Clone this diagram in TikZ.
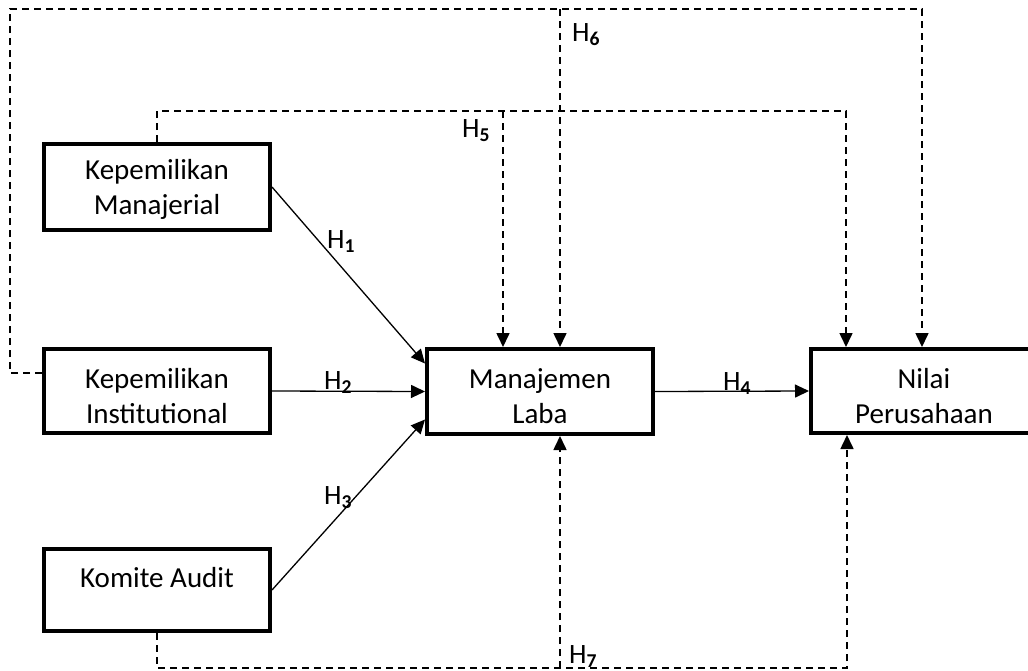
\documentclass[tikz,border=0pt]{standalone}
\usepackage{fontspec}
\setmainfont{Carlito}
\usetikzlibrary{arrows.meta}

\tikzset{
  varbox/.style={draw,line width=4pt,minimum width=226pt,minimum height=84pt,inner sep=0pt,
    align=center,font=\fontsize{29}{35}\selectfont,text height=65pt},
  hlabel/.style={anchor=base west,inner sep=0pt,font=\fontsize{28}{32}\selectfont},
  effect/.style={line width=1.3pt,-{Triangle[length=14pt,width=13pt]}},
  moder/.style={line width=1.6pt,dash pattern=on 7pt off 5pt,-{Triangle[length=14pt,width=13pt]}}
}

\begin{document}
\begin{tikzpicture}[x=1pt,y=-1pt]
\useasboundingbox (0,0) rectangle (1028,670);
\node[varbox,minimum height=86pt,text height=60pt] (manaj) at (157,187) {Kepemilikan\\Manajerial};
\node[varbox] (inst) at (157,391) {Kepemilikan\\Institutional};
\node[varbox,minimum height=82pt] (komite) at (157,590) {Komite Audit\\\mbox{}};
\node[varbox,minimum height=85pt] (laba) at (540,391.5) {Manajemen\\Laba};
\node[varbox] (nilai) at (924,391) {Nilai\\Perusahaan};

\coordinate (top) at (10,9);
\coordinate (mid) at (0,111);
\coordinate (bot) at (0,668);
\coordinate (a1) at ([xshift=-37pt]laba.north);
\coordinate (a2) at ([xshift=20pt]laba.north);
\coordinate (b1) at ([xshift=-78pt]nilai.north);
\coordinate (b2) at ([xshift=-2pt]nilai.north);
\coordinate (c1) at ([xshift=20pt]laba.south);
\coordinate (c2) at ([xshift=-77pt]nilai.south);

\draw[effect] (manaj.east) -- ([yshift=28pt]laba.west);
\draw[effect] (inst.east) -- (laba.west);
\draw[effect] (komite.east) -- ([yshift=-28pt]laba.west);
\draw[effect] (laba.east) -- (nilai.west);

\draw[moder] ([yshift=18pt]inst.west) -| (top) -| (b2);
\draw[moder] (a2 |- top) -- (a2);
\draw[moder] (manaj.north) |- (b1 |- mid) -- (b1);
\draw[moder] (a1 |- mid) -- (a1);
\draw[moder] (komite.south) |- (c2 |- bot) -- (c2);
\draw[moder] (c1 |- bot) -- (c1);

\node[hlabel] (h1) at (327,248) {H\textsubscript{\textbf{1}}};
\node[hlabel] (h2) at (324,389) {H\textsubscript{\textbf{2}}};
\node[hlabel] (h3) at (324,504) {H\textsubscript{\textbf{3}}};
\node[hlabel] (h4) at (723,390) {H\textsubscript{\textbf{4}}};
\node[hlabel] (h5) at (462,137) {H\textsubscript{\textbf{5}}};
\node[hlabel] (h6) at (572,41) {H\textsubscript{\textbf{6}}};
\node[hlabel] (h7) at (569,663) {H\textsubscript{\textbf{7}}};
\end{tikzpicture}
\end{document}
